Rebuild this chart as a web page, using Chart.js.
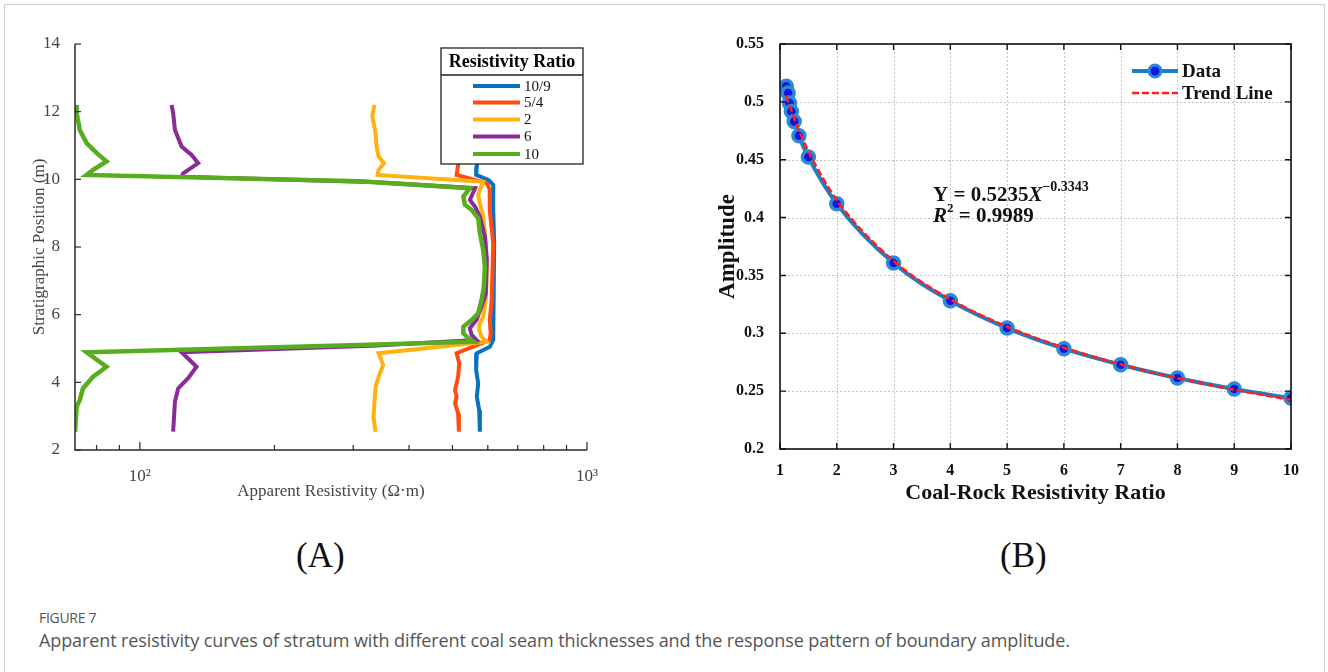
<!DOCTYPE html>
<html>
<head>
<meta charset="utf-8">
<script src="https://cdn.jsdelivr.net/npm/chart.js@4/dist/chart.umd.min.js"></script>
<style>
  body { margin: 0; background: #fff; width: 1328px; height: 672px; overflow: hidden; position: relative; }
  #frame { position: absolute; left: 4px; top: 4px; width: 1319px; height: 720px; border: 1px solid #cfcfcf; }
  #wrapA { position: absolute; left: 0; top: 0; width: 660px; height: 520px; }
  #wrapB { position: absolute; left: 660px; top: 0; width: 668px; height: 520px; }
  .panel { position: absolute; top: 536px; font-family: "Liberation Serif", serif; font-size: 35px; color: #111; }
  #figno { position: absolute; left: 39px; top: 608px; font-family: "Open Sans", sans-serif; font-size: 14px; color: #555; letter-spacing: -0.3px; }
  #caption { position: absolute; left: 39px; top: 628px; font-family: "Open Sans", sans-serif; font-size: 18px; color: #555; letter-spacing: -0.1px; }
</style>
</head>
<body>
<div id="frame"></div>
<div id="wrapA"><canvas id="chartA" width="660" height="520"></canvas></div>
<div id="wrapB"><canvas id="chartB" width="668" height="520"></canvas></div>
<div class="panel" style="left:296px">(A)</div>
<div class="panel" style="left:1000px">(B)</div>
<div id="figno">FIGURE 7</div>
<div id="caption">Apparent resistivity curves of stratum with different coal seam thicknesses and the response pattern of boundary amplitude.</div>
<script>
/* Panel A: depth (m) and apparent resistivity (ohm m) */
const depth_10_9 = [12.2, 11.6, 11.0, 10.38, 10.13, 9.98, 9.84, 9.10, 8.11, 7.12, 6.14, 5.25, 5.05, 4.86, 4.36, 3.97, 3.57, 3.18, 2.54];
const rho_10_9   = [570, 566, 572, 567, 565, 602, 617, 617, 620, 619, 617, 617, 606, 567, 565, 571, 567, 574, 576];

const depth_5_4 = [12.2, 11.6, 11.0, 10.43, 10.13, 9.89, 9.69, 9.10, 8.11, 7.42, 6.43, 5.84, 5.45, 5.25, 4.86, 4.56, 4.17, 3.77, 3.57, 3.38, 3.08, 2.54];
const rho_5_4   = [513, 509, 515, 515, 511, 597, 606, 606, 617, 615, 612, 606, 609, 606, 511, 518, 515, 507, 511, 507, 515, 517];

const depth_2 = [12.2, 11.86, 11.37, 10.97, 10.67, 10.48, 10.28, 10.13, 9.93, 9.69, 9.54, 9.30, 8.90, 8.11, 7.32, 6.43, 5.94, 5.75, 5.55, 5.35, 5.20, 4.86, 4.51, 4.17, 3.87, 3.48, 2.98, 2.54];
const rho_2   = [334.8, 331, 336.6, 338.3, 342, 351.6, 342, 340, 586, 576, 571, 576, 586, 594, 597, 594, 586, 576, 574, 581, 597, 342, 350, 342, 336.6, 335, 333, 336.6];

const depth_6 = [12.2, 11.96, 11.46, 10.97, 10.72, 10.48, 10.18, 10.08, 9.92, 9.74, 9.39, 9.19, 8.90, 8.31, 7.62, 6.63, 6.24, 5.84, 5.60, 5.40, 5.25, 5.08, 4.89, 4.46, 4.12, 3.82, 3.43, 2.54];
const rho_6   = [117.7, 118.7, 119.8, 124.0, 130.5, 135.0, 125.0, 124.0, 330, 562, 547, 562, 576, 591, 597, 594, 581, 566, 547, 552, 566, 330, 124.0, 133.9, 128.2, 121.8, 119.8, 118.7];

const depth_10 = [12.2, 11.96, 11.46, 11.07, 10.78, 10.53, 10.28, 10.13, 9.94, 9.74, 9.49, 9.25, 9.10, 8.85, 8.41, 7.91, 7.42, 6.83, 6.43, 6.04, 5.84, 5.64, 5.45, 5.30, 5.20, 5.10, 4.89, 4.46, 4.17, 3.82, 3.48, 3.28, 2.54];
const rho_10   = [72.0, 72.2, 73.4, 76.0, 80.0, 84.2, 78.6, 76.0, 310, 547, 529, 533, 552, 571, 576, 586, 591, 588, 581, 571, 552, 529, 529, 543, 557, 310, 76.0, 84.2, 78.6, 74.6, 73.4, 72.2, 71.6];

const ratioLabels = ['10/9', '5/4', '2', '6', '10'];
const depthTicks = [2, 4, 6, 8, 10, 12, 14];
const rhoTicks = [80, 90, 100, 200, 300, 400, 500, 600, 700, 800, 900, 1000];

/* Panel B: coal-rock resistivity ratio vs boundary amplitude */
const ratioX    = [1.111, 1.143, 1.167, 1.2, 1.25, 1.333, 1.5, 2, 3, 4, 5, 6, 7, 8, 9, 10];
const amplitude = [0.5134, 0.5076, 0.4990, 0.4917, 0.4831, 0.4707, 0.4523, 0.4120, 0.3607, 0.3281, 0.3045, 0.2867, 0.2728, 0.2613, 0.2518, 0.2440];
const trendY    = [0.5054, 0.5006, 0.4972, 0.4926, 0.4859, 0.4755, 0.4572, 0.4152, 0.3626, 0.3293, 0.3057, 0.2876, 0.2732, 0.2612, 0.2512, 0.2424];
const ampTicks   = [0.2, 0.25, 0.3, 0.35, 0.4, 0.45, 0.5, 0.55];
const ratioTicks = [1, 2, 3, 4, 5, 6, 7, 8, 9, 10];

const colorsA = ['#0a72bd', '#ff4d12', '#ffb20f', '#8b2c96', '#57ad1f'];
const serif = '"Liberation Serif", "Times New Roman", serif';

const seriesA = [
  { depth: depth_10_9, rho: rho_10_9 },
  { depth: depth_5_4, rho: rho_5_4 },
  { depth: depth_2, rho: rho_2 },
  { depth: depth_6, rho: rho_6 },
  { depth: depth_10, rho: rho_10 }
];

// decorations for panel A: axes, inner ticks, titles, boxed legend
const decoA = {
  id: 'decoA',
  afterDraw(chart) {
    const { ctx, chartArea: a, scales: { x, y } } = chart;
    ctx.save();
    ctx.strokeStyle = '#2a2a2a';
    ctx.lineWidth = 1.5;
    ctx.beginPath();
    ctx.moveTo(a.left, a.top);
    ctx.lineTo(a.left, a.bottom);
    ctx.lineTo(a.right, a.bottom);
    ctx.stroke();
    ctx.lineWidth = 1.2;
    depthTicks.forEach(v => {
      const py = y.getPixelForValue(v);
      ctx.beginPath(); ctx.moveTo(a.left, py); ctx.lineTo(a.left + 6, py); ctx.stroke();
    });
    rhoTicks.forEach(v => {
      const px = x.getPixelForValue(v);
      const len = (v === 100 || v === 1000) ? 8 : 5;
      ctx.beginPath(); ctx.moveTo(px, a.bottom); ctx.lineTo(px, a.bottom - len); ctx.stroke();
    });

    // axis titles
    ctx.fillStyle = '#444';
    ctx.font = '17px ' + serif;
    ctx.textAlign = 'center';
    ctx.textBaseline = 'middle';
    ctx.fillText('Apparent Resistivity (\u03A9\u00B7m)', (a.left + a.right) / 2, 492);
    ctx.save();
    ctx.translate(40, (a.top + a.bottom) / 2);
    ctx.rotate(-Math.PI / 2);
    ctx.fillText('Stratigraphic Position (m)', 0, 0);
    ctx.restore();

    // legend box
    const lx = 441, ly = 48, lw = 142, lh = 116;
    ctx.fillStyle = '#fff';
    ctx.fillRect(lx, ly, lw, lh);
    ctx.strokeStyle = '#222';
    ctx.lineWidth = 1.3;
    ctx.strokeRect(lx, ly, lw, lh);
    ctx.beginPath(); ctx.moveTo(lx, 75); ctx.lineTo(lx + lw, 75); ctx.stroke();
    ctx.fillStyle = '#000';
    ctx.font = 'bold 18px ' + serif;
    ctx.fillText('Resistivity Ratio', lx + lw / 2, 62);
    const rows = [86, 102.5, 119.5, 136.5, 154];
    ctx.font = '15px ' + serif;
    ctx.textAlign = 'left';
    ratioLabels.forEach((lab, i) => {
      ctx.strokeStyle = colorsA[i];
      ctx.lineWidth = 4;
      ctx.beginPath(); ctx.moveTo(473, rows[i]); ctx.lineTo(520, rows[i]); ctx.stroke();
      ctx.fillStyle = '#111';
      ctx.fillText(lab, 524, rows[i] + 1);
    });
    ctx.restore();
  }
};

const chartA = new Chart(document.getElementById('chartA').getContext('2d'), {
  type: 'scatter',
  data: {
    datasets: seriesA.map((s, i) => ({
      label: ratioLabels[i],
      data: s.depth.map((d, k) => ({ x: s.rho[k], y: d })),
      showLine: true,
      borderColor: colorsA[i],
      borderWidth: i === 4 ? 4.5 : 4,
      pointRadius: 0,
      order: 5 - i
    }))
  },
  options: {
    responsive: false,
    animation: false,
    layout: { padding: { top: 44, right: 73, left: 0, bottom: 0 } },
    plugins: { legend: { display: false }, tooltip: { enabled: false } },
    scales: {
      x: {
        type: 'logarithmic',
        min: 71.6,
        max: 1000,
        afterBuildTicks: s => { s.ticks = rhoTicks.map(v => ({ value: v })); },
        afterFit: s => { s.height = 70; },
        grid: { display: false },
        border: { display: false },
        ticks: {
          autoSkip: false,
          maxRotation: 0,
          padding: 8,
          color: '#444',
          font: { family: serif, size: 17 },
          callback: v => v === 100 ? '10\u00B2' : (v === 1000 ? '10\u00B3' : '')
        }
      },
      y: {
        min: 2,
        max: 14,
        afterBuildTicks: s => { s.ticks = depthTicks.map(v => ({ value: v })); },
        afterFit: s => { s.width = 75; },
        grid: { display: false },
        border: { display: false },
        ticks: { padding: 7, color: '#444', font: { family: serif, size: 17 } }
      }
    }
  },
  plugins: [decoA]
});

// decorations for panel B: dotted grid, box, inner ticks, legend, equation, titles
const decoB = {
  id: 'decoB',
  beforeDatasetsDraw(chart) {
    const { ctx, chartArea: a, scales: { x, y } } = chart;
    ctx.save();
    ctx.strokeStyle = '#c4c4c4';
    ctx.lineWidth = 1;
    ctx.setLineDash([2, 2]);
    ratioTicks.forEach(v => {
      const px = Math.round(x.getPixelForValue(v)) + 0.5;
      ctx.beginPath(); ctx.moveTo(px, a.top); ctx.lineTo(px, a.bottom); ctx.stroke();
    });
    ampTicks.forEach(v => {
      const py = Math.round(y.getPixelForValue(v)) + 0.5;
      ctx.beginPath(); ctx.moveTo(a.left, py); ctx.lineTo(a.right, py); ctx.stroke();
    });
    ctx.restore();
  },
  afterDraw(chart) {
    const { ctx, chartArea: a, scales: { x, y } } = chart;
    ctx.save();
    ctx.strokeStyle = '#111';
    ctx.lineWidth = 1.6;
    ctx.strokeRect(a.left, a.top, a.right - a.left, a.bottom - a.top);
    ctx.lineWidth = 1.4;
    ratioTicks.forEach(v => {
      const px = x.getPixelForValue(v);
      ctx.beginPath();
      ctx.moveTo(px, a.bottom); ctx.lineTo(px, a.bottom - 6);
      ctx.moveTo(px, a.top); ctx.lineTo(px, a.top + 6);
      ctx.stroke();
    });
    ampTicks.forEach(v => {
      const py = y.getPixelForValue(v);
      ctx.beginPath();
      ctx.moveTo(a.left, py); ctx.lineTo(a.left + 6, py);
      ctx.moveTo(a.right, py); ctx.lineTo(a.right - 6, py);
      ctx.stroke();
    });

    // axis titles
    ctx.fillStyle = '#111';
    ctx.textAlign = 'center';
    ctx.textBaseline = 'middle';
    ctx.font = 'bold 22px ' + serif;
    ctx.fillText('Coal-Rock Resistivity Ratio', (a.left + a.right) / 2, 493);
    ctx.save();
    ctx.translate(68, (a.top + a.bottom) / 2);
    ctx.rotate(-Math.PI / 2);
    ctx.font = 'bold 23px ' + serif;
    ctx.fillText('Amplitude', 0, 0);
    ctx.restore();

    // legend
    ctx.lineWidth = 4;
    ctx.strokeStyle = '#1f7dc4';
    ctx.beginPath(); ctx.moveTo(472, 71); ctx.lineTo(518, 71); ctx.stroke();
    ctx.beginPath(); ctx.arc(495, 71, 6, 0, Math.PI * 2);
    ctx.fillStyle = '#1414e0'; ctx.fill();
    ctx.lineWidth = 3; ctx.strokeStyle = '#2a8ad4'; ctx.stroke();
    ctx.strokeStyle = '#ff2020';
    ctx.lineWidth = 2.6;
    ctx.setLineDash([7, 3]);
    ctx.beginPath(); ctx.moveTo(472, 93); ctx.lineTo(518, 93); ctx.stroke();
    ctx.setLineDash([]);
    ctx.fillStyle = '#111';
    ctx.textAlign = 'left';
    ctx.font = 'bold 19px ' + serif;
    ctx.fillText('Data', 522, 72);
    ctx.fillText('Trend Line', 522, 94);

    // fitted equation
    let ex = 273, ey = 196;
    const part = (txt, font, dy) => {
      ctx.font = font;
      ctx.fillText(txt, ex, ey + dy);
      ex += ctx.measureText(txt).width;
    };
    part('Y = 0.5235', 'bold 21px ' + serif, 0);
    part('X', 'italic bold 21px ' + serif, 0);
    part('\u22120.3343', 'bold 14px ' + serif, -9);
    ex = 273; ey = 217;
    part('R', 'italic bold 21px ' + serif, 0);
    part('2', 'bold 13px ' + serif, -8);
    part(' = 0.9989', 'bold 21px ' + serif, 0);
    ctx.restore();
  }
};

const chartB = new Chart(document.getElementById('chartB').getContext('2d'), {
  type: 'scatter',
  data: {
    datasets: [
      {
        label: 'Data',
        data: ratioX.map((v, i) => ({ x: v, y: amplitude[i] })),
        showLine: true,
        borderColor: '#1f7dc4',
        borderWidth: 4,
        pointRadius: 6,
        pointBorderWidth: 3.5,
        pointBorderColor: '#2a8ad4',
        pointBackgroundColor: '#1414e0',
        cubicInterpolationMode: 'monotone',
        order: 1
      },
      {
        label: 'Trend Line',
        data: ratioX.map((v, i) => ({ x: v, y: trendY[i] })),
        showLine: true,
        borderColor: '#ff2020',
        borderWidth: 2.6,
        borderDash: [7, 3],
        pointRadius: 0,
        cubicInterpolationMode: 'monotone',
        order: 0
      }
    ]
  },
  options: {
    responsive: false,
    animation: false,
    layout: { padding: { top: 44, right: 37, left: 0, bottom: 0 } },
    plugins: { legend: { display: false }, tooltip: { enabled: false } },
    scales: {
      x: {
        type: 'linear',
        min: 1,
        max: 10,
        afterBuildTicks: s => { s.ticks = ratioTicks.map(v => ({ value: v })); },
        afterFit: s => { s.height = 71; },
        grid: { display: false },
        border: { display: false },
        ticks: { padding: 4, color: '#111', font: { family: serif, size: 16, weight: 'bold' } }
      },
      y: {
        min: 0.2,
        max: 0.55,
        afterBuildTicks: s => { s.ticks = ampTicks.map(v => ({ value: v })); },
        afterFit: s => { s.width = 120; },
        grid: { display: false },
        border: { display: false },
        ticks: {
          padding: 8,
          color: '#111',
          font: { family: serif, size: 16, weight: 'bold' },
          callback: v => String(+v.toFixed(2))
        }
      }
    }
  },
  plugins: [decoB]
});
</script>
</body>
</html>
